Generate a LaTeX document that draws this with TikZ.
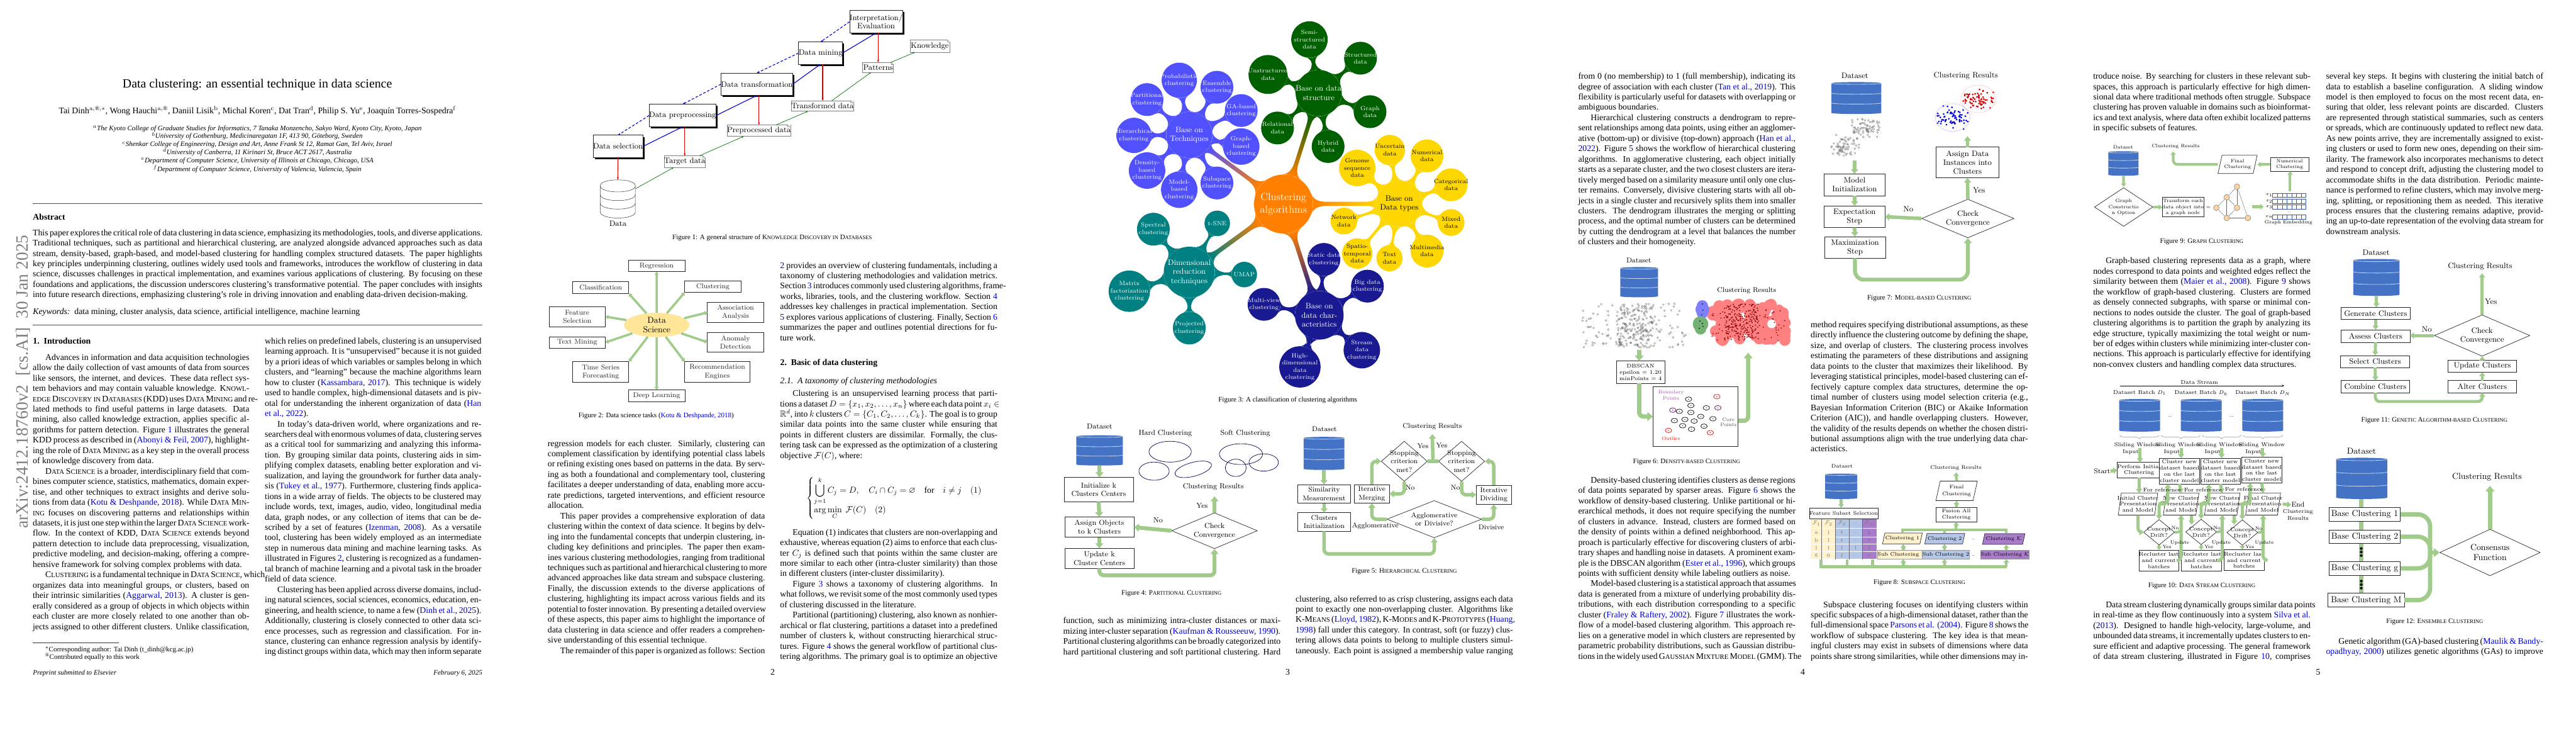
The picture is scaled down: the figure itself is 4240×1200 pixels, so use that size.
\documentclass[tikz,border=0pt]{standalone}
\usepackage{fontspec}
\usepackage{amsmath,amssymb}
\usetikzlibrary{arrows.meta,shapes.geometric,shadows,calc,mindmap,decorations.pathreplacing}
\newfontfamily\tim{Liberation Serif}
\pgfdeclarelayer{bg}\pgfsetlayers{bg,main}
\definecolor{gr}{HTML}{A0CB8B}
\definecolor{cite}{rgb}{0,0,0.85}
\definecolor{dbb}{HTML}{4472C4}
\definecolor{dbs}{HTML}{C5D3EC}
\definecolor{mmo}{RGB}{255,128,0}
\definecolor{mmg}{RGB}{0,96,0}
\definecolor{mmy}{RGB}{255,215,0}
\definecolor{mmb}{RGB}{80,80,255}
\definecolor{mmt}{RGB}{0,128,128}
\definecolor{mmn}{RGB}{25,25,145}
\definecolor{fy}{HTML}{FFF2CC}
\definecolor{fb}{HTML}{B4C7E7}
\definecolor{fp}{HTML}{A97CCB}
\definecolor{dsy}{HTML}{FFE699}
\newcounter{auton}
\newlength\cw
\newcommand\sltf{0.22}
\newcommand\cc[1]{\textcolor{cite}{#1}}
\newcommand\sca[1]{\scalebox{.78}{#1}}
\newcommand\J[1]{\hbox to\cw{#1}}
\newcommand\N[1]{\hbox to\cw{#1\hfil}}
\newcommand\I[1]{\hbox to\cw{\hskip14.5pt #1}}
\newcommand\Blk[4]{\stepcounter{auton}\setlength\cw{#3pt}\node[anchor=base west,inner sep=0,outer sep=0,font=\tim\fontsize{10}{11.95}\selectfont] (n\arabic{auton}) at (#1,#2) {\vtop{#4}};}
\newcommand\Lab[4][]{\stepcounter{auton}\node[inner sep=0,align=center,#1] (n\arabic{auton}) at (#2,#3) {#4};}
\newcommand\Tx[4][]{\stepcounter{auton}\node[anchor=base,inner sep=0,font=\tim\fontsize{10}{11.95}\selectfont,#1] (n\arabic{auton}) at (#2,#3) {#4};}
\newcommand\Fcap[3]{\stepcounter{auton}\node[anchor=base,inner sep=0,font=\tim\fontsize{8}{9.5}\selectfont] (n\arabic{auton}) at (#1,#2) {#3};}
\newcommand\Bx[7][]{\node[bx,#1,minimum width={(#5-#3)*0.7017pt},minimum height={(#6-#4)*0.7017pt}] (#2) at ({(#3+#5)/2},{(#4+#6)/2}) {#7};}
\newcommand\Dm[7][]{\node[diamond,draw=black!85,line width=.5pt,fill=white,inner sep=0,minimum width={2*#5*0.7017pt},minimum height={2*#6*0.7017pt},#1] (#2) at (#3,#4) {};\node[inner sep=0,align=center] (#2t) at (#3,#4) {#7};}
\newcommand\Pg[7][]{\pgfmathsetmacro\slt{(#6-#4)*\sltf}\draw[draw=black!85,line width=.5pt,#1] (#3,#6)--({#5-\slt},#6)--(#5,#4)--({#3+\slt},#4)--cycle;\node[inner sep=0,align=center,minimum width={(#5-#3)*0.7017pt},minimum height={(#6-#4)*0.7017pt}] (#2) at ({(#3+#5)/2},{(#4+#6)/2}) {#7};}
\newcommand\DB[5]{%
 \node[inner sep=0,minimum width={(#4-#2)*0.7017pt},minimum height={(#5-#3)*0.7017pt}] (#1) at ({(#2+#4)/2},{(#3+#5)/2}) {};
 \pgfmathsetmacro\ryy{(#5-#3)*0.035}\pgfmathsetmacro\secc{(#5-#3-2*\ryy)/3}
 \foreach \k in {0,1,2}{%
  \pgfmathsetmacro\ya{#3+\ryy+\k*\secc}\pgfmathsetmacro\yb{\ya+\secc}\pgfmathsetmacro\yc{\ya+1.33*\ryy}\pgfmathsetmacro\yd{\ya-1.33*\ryy}\pgfmathsetmacro\ye{\yb+1.33*\ryy}
  \fill[dbb] (#2,\ya) -- (#2,\yb) .. controls (#2,\ye) and (#4,\ye) .. (#4,\yb) -- (#4,\ya) .. controls (#4,\yd) and (#2,\yd) .. (#2,\ya) -- cycle;
  \draw[dbs,line width=.6pt] (#2,\ya) .. controls (#2,\yc) and (#4,\yc) .. (#4,\ya);
 }}
\newcommand\Scat[7][]{\foreach \i in {1,...,#6}{\pgfmathsetmacro\xa{#2+#4*(rand+rand)/1.5}\pgfmathsetmacro\xb{#3+#5*(rand+rand)/1.5}\draw[#7,#1] (\xa,\xb) circle (1.05pt);}}
\newcommand\Uni[7][]{\foreach \i in {1,...,#6}{\pgfmathsetmacro\xa{#2+#4*rand}\pgfmathsetmacro\xb{#3+#5*rand}\draw[#7,#1] (\xa,\xb) circle (1.05pt);}}
\newcommand\Mm[8]{\node[circle,fill=#5,inner sep=0,minimum size={2*#4*0.7017pt}] (#1) at (#2,#3) {};\node[inner sep=0,align=center,text=#6,font=\fontsize{#7}{\dimexpr 1.18\dimexpr #7pt\relax\relax}\selectfont] (#1t) at (#2,#3) {#8};}
\newcommand\Cn[4]{\begin{pgfonlayer}{bg}\path (#1) to[circle connection bar switch color=from (#3) to (#4)] (#2);\end{pgfonlayer}}
\tikzset{
 bx/.style={draw=black!85,line width=.55pt,inner sep=0,outer sep=0,fill=white,align=center},
 sbox/.style={drop shadow={shadow xshift=2pt,shadow yshift=-2pt,fill=black,opacity=1}},
 nt/.style={draw=black!50,line width=.5pt},
 f5/.style={font=\fontsize{5.6}{6.8}\selectfont},
 f6/.style={font=\fontsize{6}{7.4}\selectfont},
 f65/.style={font=\fontsize{6.3}{7.1}\selectfont},
 f7/.style={font=\fontsize{7}{8.6}\selectfont},
 f8/.style={font=\fontsize{8}{9.6}\selectfont},
 f85/.style={font=\fontsize{8.5}{10}\selectfont},
 f9/.style={font=\fontsize{9}{10}\selectfont},
 f10/.style={font=\fontsize{10}{12}\selectfont},
 ga/.style={draw=gr,line width=#1,rounded corners=5pt,-{Triangle[length=0pt 1.3,width=0pt 2]}},
 gl/.style={draw=gr,line width=#1,rounded corners=5pt},
 rd/.style={draw=red!90!black,line width=.8pt,-{Stealth[length=3pt]}},
 bl/.style={draw=blue!85!black,line width=.8pt,-{Stealth[length=3pt]}},
 bd/.style={draw=blue!85!black,line width=.8pt,densely dashed,-{Stealth[length=3pt]}},
 gn/.style={draw=green!45!black,line width=.5pt,-{Stealth[length=2.5pt]}},
 blob/.style={draw=black!70!blue,line width=.5pt},
}
\begin{document}
\begin{tikzpicture}[x=0.7017pt,y=-0.7017pt]
\useasboundingbox (0,0) rectangle (4240,1200);
\begin{pgfonlayer}{bg}\fill[white] (0,0) rectangle (4240,1200);\end{pgfonlayer}
% ---------- PAGE 1
\Lab[rotate=90,text=black!50,font=\tim\fontsize{20}{20}\selectfont]{38}{628}{arXiv:2412.18760v2\ \ [cs.AI]\ \ 30 Jan 2025}
\Tx[font=\tim\fontsize{14.4}{16}\selectfont]{423.5}{144}{Data clustering: an essential technique in data science}
\Tx{423.5}{186.8}{Tai Dinh$^{\mathrm{a},\text{\textregistered},*}$, Wong Hauchi$^{\mathrm{a},\text{\textregistered}}$, Daniil Lisik$^{\mathrm{b}}$, Michal Koren$^{\mathrm{c}}$, Dat Tran$^{\mathrm{d}}$, Philip S. Yu$^{\mathrm{e}}$, Joaquín Torres-Sospedra$^{\mathrm{f}}$}
\foreach \yy/\ttx in {214.3/{$^a$The Kyoto College of Graduate Studies for Informatics, 7 Tanaka Monzencho, Sakyo Ward, Kyoto City, Kyoto, Japan},227.7/{$^b$University of Gothenburg, Medicinaregatan 1F, 413 90, Göteborg, Sweden},241.1/{$^c$Shenkar College of Engineering, Design and Art, Anne Frank St 12, Ramat Gan, Tel Aviv, Israel},254.5/{$^d$University of Canberra, 11 Kirinari St, Bruce ACT 2617, Australia},267.9/{$^e$Department of Computer Science, University of Illinois at Chicago, Chicago, USA},281.7/{$^f$Department of Computer Science, University of Valencia, Valencia, Spain}}{\Tx[font=\tim\itshape\fontsize{8}{9.5}\selectfont]{423.5}{\yy}{\ttx}}
\coordinate (r1a) at (54,334.9);\coordinate (r1b) at (794,334.9);\draw[black!70,line width=.6pt] (r1a)--(r1b);
\Tx[anchor=base west,font=\tim\bfseries\fontsize{10}{12}\selectfont]{54}{361.7}{Abstract}
\Blk{54}{387.3}{519.2}{%
\J{This paper explores the critical role of data clustering in data science, emphasizing its methodologies, tools, and diverse applications.}
\J{Traditional techniques, such as partitional and hierarchical clustering, are analyzed alongside advanced approaches such as data}
\J{stream, density-based, graph-based, and model-based clustering for handling complex structured datasets. The paper highlights}
\J{key principles underpinning clustering, outlines widely used tools and frameworks, introduces the workflow of clustering in data}
\J{science, discusses challenges in practical implementation, and examines various applications of clustering. By focusing on these}
\J{foundations and applications, the discussion underscores clustering’s transformative potential. The paper concludes with insights}
\N{into future research directions, emphasizing clustering’s role in driving innovation and enabling data-driven decision-making.}}
\Tx[anchor=base west]{54}{516.7}{\textit{Keywords:}\ \ data mining, cluster analysis, data science, artificial intelligence, machine learning}
\coordinate (r2a) at (54,534.6);\coordinate (r2b) at (794,534.6);\draw[black!70,line width=.6pt] (r2a)--(r2b);
\Tx[anchor=base west,font=\tim\bfseries\fontsize{10}{12}\selectfont]{54}{565.6}{1.\ \ Introduction}
\Blk{54}{592.4}{250}{%
\I{Advances in information and data acquisition technologies}
\J{allow the daily collection of vast amounts of data from sources}
\J{like sensors, the internet, and devices. These data reflect sys-}
\J{tem behaviors and may contain valuable knowledge. K\sca{NOWL}-}
\J{\sca{EDGE} D\sca{ISCOVERY IN} D\sca{ATABASES} (KDD) uses D\sca{ATA} M\sca{INING} and re-}
\J{lated methods to find useful patterns in large datasets. Data}
\J{mining, also called knowledge extraction, applies specific al-}
\J{gorithms for pattern detection. Figure \cc{1} illustrates the general}
\J{KDD process as described in (\cc{Abonyi \& Feil, 2007}), highlight-}
\J{ing the role of D\sca{ATA} M\sca{INING} as a key step in the overall process}
\N{of knowledge discovery from data.}
\I{D\sca{ATA} S\sca{CIENCE} is a broader, interdisciplinary field that com-}
\J{bines computer science, statistics, mathematics, domain exper-}
\J{tise, and other techniques to extract insights and derive solu-}
\J{tions from data (\cc{Kotu \& Deshpande, 2018}). While D\sca{ATA} M\sca{IN}-}
\J{\sca{ING} focuses on discovering patterns and relationships within}
\J{datasets, it is just one step within the larger D\sca{ATA} S\sca{CIENCE} work-}
\J{flow. In the context of KDD, D\sca{ATA} S\sca{CIENCE} extends beyond}
\J{pattern detection to include data preprocessing, visualization,}
\J{predictive modeling, and decision-making, offering a compre-}
\N{hensive framework for solving complex problems with data.}
\I{C\sca{LUSTERING} is a fundamental technique in D\sca{ATA} S\sca{CIENCE}, which}
\J{organizes data into meaningful groups, or clusters, based on}
\J{their intrinsic similarities (\cc{Aggarwal, 2013}). A cluster is gen-}
\J{erally considered as a group of objects in which objects within}
\J{each cluster are more closely related to one another than ob-}
\J{jects assigned to other different clusters. Unlike classification,}}
\Blk{436}{565.6}{250}{%
\J{which relies on predefined labels, clustering is an unsupervised}
\J{learning approach. It is “unsupervised” because it is not guided}
\J{by a priori ideas of which variables or samples belong in which}
\J{clusters, and “learning” because the machine algorithms learn}
\J{how to cluster (\cc{Kassambara, 2017}). This technique is widely}
\J{used to handle complex, high-dimensional datasets and is piv-}
\J{otal for understanding the inherent organization of data (\cc{Han}}
\N{\cc{et al., 2022}).}
\I{In today’s data-driven world, where organizations and re-}
\J{searchers deal with enormous volumes of data, clustering serves}
\J{as a critical tool for summarizing and analyzing this informa-}
\J{tion. By grouping similar data points, clustering aids in sim-}
\J{plifying complex datasets, enabling better exploration and vi-}
\J{sualization, and laying the groundwork for further data analy-}
\J{sis (\cc{Tukey et al., 1977}). Furthermore, clustering finds applica-}
\J{tions in a wide array of fields. The objects to be clustered may}
\J{include words, text, images, audio, video, longitudinal media}
\J{data, graph nodes, or any collection of items that can be de-}
\J{scribed by a set of features (\cc{Izenman, 2008}). As a versatile}
\J{tool, clustering has been widely employed as an intermediate}
\J{step in numerous data mining and machine learning tasks. As}
\J{illustrated in Figures \cc{2}, clustering is recognized as a fundamen-}
\J{tal branch of machine learning and a pivotal task in the broader}
\N{field of data science.}
\I{Clustering has been applied across diverse domains, includ-}
\J{ing natural sciences, social sciences, economics, education, en-}
\J{gineering, and health science, to name a few (\cc{Dinh et al., 2025}).}
\J{Additionally, clustering is closely connected to other data sci-}
\J{ence processes, such as regression and classification. For in-}
\J{stance, clustering can enhance regression analysis by identify-}
\J{ing distinct groups within data, which may then inform separate}}
\coordinate (fa) at (54,1057.3);\coordinate (fb) at (196,1057.3);\draw[black!80,line width=.4pt] (fa)--(fb);
\Tx[anchor=base west,font=\tim\fontsize{8}{9.5}\selectfont]{74}{1071.5}{$^*$Corresponding author: Tai Dinh (t\_dinh@kcg.ac.jp)}
\Tx[anchor=base west,font=\tim\fontsize{8}{9.5}\selectfont]{74}{1084}{$^{\text{\textregistered}}$Contributed equally to this work}
\Tx[anchor=base west,font=\tim\itshape\fontsize{8}{9.5}\selectfont]{54}{1109.8}{Preprint submitted to Elsevier}
\Tx[anchor=base east,font=\tim\itshape\fontsize{8}{9.5}\selectfont]{794}{1109.8}{February 6, 2025}
% ---------- PAGE 2: Figure 1
\begin{scope}[every node/.append style={f9}]
\Bx[sbox]{sel}{977.4}{222.3}{1057}{259.5}{Data selection}
\Bx[sbox]{pre}{1071}{171.4}{1176}{208.6}{Data preprocessing}
\Bx[sbox]{tra}{1190}{120}{1301.5}{157}{Data transformation}
\Bx[sbox]{min}{1315.6}{69}{1385.5}{105.6}{Data mining}
\Bx[sbox]{int}{1400}{17.2}{1484}{54.3}{Interpretation/\\Evaluation}
\Bx[nt]{tgt}{1093.4}{256.4}{1160.6}{275.5}{Target data}
\Bx[nt]{ppd}{1198.5}{205.5}{1300}{224.3}{Preprocessed data}
\Bx[nt]{tfd}{1304}{165.7}{1404}{183}{Transformed data}
\Bx[nt]{pat}{1420}{102.6}{1470.6}{119}{Patterns}
\Bx[nt]{kno}{1497.7}{66}{1563}{86}{Knowledge}
\foreach \a/\b in {1160.6/256.4,1300/205.5,1404/165.7,1470.6/102.6,1563/66}{\fill[white] (\a-4,\b-1)--(\a+1,\b-1)--(\a+1,\b+4)--cycle;\draw[black!50,line width=.4pt] (\a-4,\b)--(\a,\b+3.5)--(\a-4,\b+3.5)--cycle;}
\node[inner sep=0,minimum width={57.7*0.7017pt},minimum height={62.8*0.7017pt}] (cyl) at (1016.8,327.2) {};
\draw[black!75,line width=.4pt,fill=white] (988,305.7) .. controls (988,292.5) and (1045.7,292.5) .. (1045.7,305.7) -- (1045.7,348.6) .. controls (1045.7,362) and (988,362) .. (988,348.6) -- cycle;
\draw[black!75,line width=.4pt] (988,305.7) .. controls (988,319) and (1045.7,319) .. (1045.7,305.7);
\draw[black!75,line width=.4pt] (988,320) .. controls (988,333.3) and (1045.7,333.3) .. (1045.7,320);
\draw[black!75,line width=.4pt] (988,334) .. controls (988,347.3) and (1045.7,347.3) .. (1045.7,334);
\Lab{1017}{367.4}{Data}
\draw[rd] (sel.south)--(cyl.north);
\draw[rd] (tgt.north |- pre.south)--(tgt.north);
\draw[rd] (ppd.north |- tra.south)--(ppd.north);
\draw[rd] (tfd.north |- min.south)--(tfd.north);
\draw[rd] (pat.north |- int.south)--(pat.north);
\draw[bl] (sel.east)--(pre.south);\draw[bl] (pre.east)--(tra.south);\draw[bl] (tra.east)--(min.south);\draw[bl] (min.east)--(int.south);
\draw[bd] (pre.west)--(sel.north);\draw[bd] (tra.west)--(pre.north);\draw[bd] (min.west)--(tra.north);\draw[bd] (int.west)--(min.north);
\draw[gn] ([yshift=-10.5pt]cyl.north east)--([xshift=11pt]tgt.south west);
\draw[gn] ([xshift=-7pt]tgt.north east)--([xshift=19pt]ppd.south west);
\draw[gn] ([xshift=-17pt]ppd.north east)--([xshift=19pt]tfd.south west);
\draw[gn] ([xshift=-25.5pt]tfd.north east)--([xshift=9.6pt]pat.south west);
\draw[gn] ([xshift=-3pt]pat.north east)--([xshift=5.7pt]kno.south west);
\end{scope}
\Fcap{1271}{394}{Figure 1: A general structure of K\sca{NOWLEDGE} D\sca{ISCOVERY IN} D\sca{ATABASES}}
% Figure 2
\begin{scope}[every node/.append style={f8,text=black!85}]
\Bx{b1}{1034}{427.9}{1127.5}{447}{Regression}
\Bx{b2}{942.7}{463.5}{1034.8}{482.6}{Classification}
\Bx{b3}{1127}{462}{1219.7}{481}{Clustering}
\Bx{b4}{903.7}{504.4}{996.3}{537.3}{Feature\\Selection}
\Bx{b5}{1164.4}{497.5}{1257}{530.4}{Association\\Analysis}
\Bx{b6}{903.7}{553.8}{996.3}{572.9}{Text Mining}
\Bx{b7}{1164.4}{546.5}{1257}{579.4}{Anomaly\\Detection}
\Bx{b8}{942.7}{595}{1034.8}{628.3}{Time Series\\Forecasting}
\Bx{b9}{1127}{595}{1234.3}{628.3}{Recommendation\\Engines}
\Bx{b10}{1034}{641.3}{1127.5}{660.5}{Deep Learning}
\node[ellipse,fill=dsy,inner sep=0,minimum width={108*0.7017pt},minimum height={40*0.7017pt},align=center,font=\fontsize{10}{10.6}\selectfont,text=black] (ds) at (1081,534.6) {Data\\Science};
\foreach \t in {b1.south,b2.south east,b3.south west,b4.east,b5.west,b6.east,b7.west,b8.north east,b9.north west,b10.north}{\draw[ga=2.6pt] (ds)--(\t);}
\end{scope}
\Fcap{1080}{686.5}{Figure 2: Data science tasks (\cc{Kotu \& Deshpande, 2018})}
\Blk{901.5}{734}{251}{%
\J{regression models for each cluster. Similarly, clustering can}
\J{complement classification by identifying potential class labels}
\J{or refining existing ones based on patterns in the data. By serv-}
\J{ing as both a foundational and complementary tool, clustering}
\J{facilitates a deeper understanding of data, enabling more accu-}
\J{rate predictions, targeted interventions, and efficient resource}
\N{allocation.}
\I{This paper provides a comprehensive exploration of data}
\J{clustering within the context of data science. It begins by delv-}
\J{ing into the fundamental concepts that underpin clustering, in-}
\J{cluding key definitions and principles. The paper then exam-}
\J{ines various clustering methodologies, ranging from traditional}
\J{techniques such as partitional and hierarchical clustering to more}
\J{advanced approaches like data stream and subspace clustering.}
\J{Finally, the discussion extends to the diverse applications of}
\J{clustering, highlighting its impact across various fields and its}
\J{potential to foster innovation. By presenting a detailed overview}
\J{of these aspects, this paper aims to highlight the importance of}
\J{data clustering in data science and offer readers a comprehen-}
\N{sive understanding of this essential technique.}
\I{The remainder of this paper is organized as follows: Section}}
\Blk{1284}{441}{251}{%
\J{\cc{2} provides an overview of clustering fundamentals, including a}
\J{taxonomy of clustering methodologies and validation metrics.}
\J{Section \cc{3} introduces commonly used clustering algorithms, frame-}
\J{works, libraries, tools, and the clustering workflow. Section \cc{4}}
\J{addresses key challenges in practical implementation. Section}
\J{\cc{5} explores various applications of clustering. Finally, Section \cc{6}}
\J{summarizes the paper and outlines potential directions for fu-}
\N{ture work.}}
\Tx[anchor=base west,font=\tim\bfseries\fontsize{10}{12}\selectfont]{1284}{601}{2.\ \ Basic of data clustering}
\Tx[anchor=base west,font=\tim\itshape\fontsize{10}{12}\selectfont]{1284}{630.6}{2.1.\ \ A taxonomy of clustering methodologies}
\Blk{1284}{651.7}{251}{%
\I{Clustering is an unsupervised learning process that parti-}
\J{tions a dataset $D = \{x_1, x_2, \ldots, x_n\}$ where each data point $x_i \in$}
\J{$\mathbb{R}^d$, into $k$ clusters $C = \{C_1, C_2, \ldots, C_k\}$. The goal is to group}
\J{similar data points into the same cluster while ensuring that}
\J{points in different clusters are dissimilar. Formally, the clus-}
\J{tering task can be expressed as the optimization of a clustering}
\N{objective $\mathcal{F}(C)$, where:}}
\Lab[anchor=west,font=\tim\fontsize{10}{12}\selectfont]{1327}{819.5}{$\left\{\begin{array}{@{}l}\displaystyle\bigcup_{j=1}^{k} C_j = D,\quad C_i\cap C_j=\varnothing\quad\text{for}\quad i\neq j\quad(1)\\[2pt] \displaystyle\arg\min_{C}\ \mathcal{F}(C)\quad(2)\end{array}\right.$}
\Blk{1284}{880}{251}{%
\I{Equation (1) indicates that clusters are non-overlapping and}
\J{exhaustive, whereas equation (2) aims to enforce that each clus-}
\J{ter $C_j$ is defined such that points within the same cluster are}
\J{more similar to each other (intra-cluster similarity) than those}
\N{in different clusters (inter-cluster dissimilarity).}
\I{Figure \cc{3} shows a taxonomy of clustering algorithms. In}
\J{what follows, we revisit some of the most commonly used types}
\N{of clustering discussed in the literature.}
\I{Partitional (partitioning) clustering, also known as nonhier-}
\J{archical or flat clustering, partitions a dataset into a predefined}
\J{number of clusters k, without constructing hierarchical struc-}
\J{tures. Figure \cc{4} shows the general workflow of partitional clus-}
\J{tering algorithms. The primary goal is to optimize an objective}}
\Tx{1271.7}{1109.8}{2}
% ---------- PAGE 3: Figure 3 mindmap
\Mm{root}{2112.5}{335.6}{48.5}{mmo}{white}{12}{Clustering\\algorithms}
\Mm{gc}{2170.5}{153}{38}{mmg}{white}{9}{Base on data\\structure}
\Mm{bc}{1957.5}{222}{38}{mmb}{white}{9}{Base on\\Techniques}
\Mm{yc}{2303}{335}{38}{mmy}{black}{9}{Base on\\Data types}
\Mm{tc}{1957.5}{447.8}{42}{mmt}{white}{9}{Dimensional\\reduction\\techniques}
\Mm{nc}{2171.5}{518.6}{40}{mmn}{white}{9}{Base on\\data char-\\acteristics}
\foreach \cx/\cl in {gc/mmg,bc/mmb,yc/mmy,tc/mmt,nc/mmn}{\Cn{root}{\cx}{mmo}{\cl}}
\foreach \n/\x/\y/\r/\t in {g1/2155.3/65/30/{Semi-\\structured\\data},g2/2239.3/95.7/27/{Structured\\data},g3/2087/122.5/32/{Unstructured\\data},g4/2255/183.7/27/{Graph\\data},g5/2186/241/27/{Hybrid\\data},g6/2102.7/210.5/27/{Relational\\data}}{\Mm{\n}{\x}{\y}{\r}{mmg}{white}{7}{\t}\Cn{gc}{\n}{mmg}{mmg}}
\foreach \n/\x/\y/\r/\t in {y1/2287.6/246.8/25/{Uncertain\\data},y2/2348.8/256.4/27/{Numerical\\data},y3/2234/276.3/30/{Genome\\sequence\\data},y4/2388.4/304/27/{Categorical\\data},y5/2212/363.6/22/{Network\\data},y6/2388.4/366/22/{Mixed\\data},y7/2234/417/25/{Spatio-\\temporal\\data},y8/2287/424.8/21.5/{Text\\data},y9/2348.8/413/27/{Multimedia\\data}}{\Mm{\n}{\x}{\y}{\r}{mmy}{black}{7}{\t}\Cn{yc}{\n}{mmy}{mmy}}
\foreach \n/\x/\y/\r/\t in {b1/1941/132/29/{Probabilistic\\clustering},b2/2003/143.5/27/{Ensemble\\clustering},b3/1888/163.8/27/{Partitional\\clustering},b4/2043/181.8/27/{GA-based\\clustering},b5/1866.4/222.7/29/{Hierarchical\\clustering},b6/2043/241/30/{Graph-\\based\\clustering},b7/1888/280.5/30/{Density-\\based\\clustering},b8/1941/312/30/{Model-\\based\\clustering},b9/2003/301/27/{Subspace\\clustering}}{\Mm{q\n}{\x}{\y}{\r}{mmb}{white}{7}{\t}\Cn{bc}{q\n}{mmb}{mmb}}
\foreach \n/\x/\y/\r/\t in {t1/1898.4/377/27/{Spectral\\clustering},t2/2003.5/367.4/21/{t-SNE},t3/2048/451.6/21/{UMAP},t4/1858.8/479/34/{Matrix\\factorization\\clustering},t5/1957.5/539.6/27/{Projected\\clustering}}{\Mm{\n}{\x}{\y}{\r}{mmt}{white}{7}{\t}\Cn{tc}{\n}{mmt}{mmt}}
\foreach \n/\x/\y/\r/\t in {n1/2179/426.7/27/{Static data\\clustering},n2/2250.7/470.7/27/{Big data\\clustering},n3/2080.5/500.6/27/{Multi-view\\clustering},n4/2241.5/576/30/{Stream\\data\\clustering},n5/2139.6/603.5/34/{High-\\dimensional\\data\\clustering}}{\Mm{\n}{\x}{\y}{\r}{mmn}{white}{7}{\t}\Cn{nc}{\n}{mmn}{mmn}}
\Fcap{2119.6}{661}{Figure 3: A classification of clustering algorithms}
% Figure 4
\begin{scope}[every node/.append style={f85}]
\Lab{1810}{701.4}{Dataset}\Lab{1918}{712.5}{Hard Clustering}\Lab{2049.6}{713}{Soft Clustering}
\DB{db4}{1771.5}{716}{1848}{765.7}
\draw[blob] (1926,743) ellipse (24.5pt and 12pt);
\draw[blob] (1899.5,775) ellipse (17.5pt and 10.5pt);
\draw[blob,rotate around={15:(1964,772)}] (1964,772) ellipse (21.7pt and 8pt);
\draw[blob] (2042.6,747) ellipse (25pt and 12pt);
\draw[blob] (2034,769.5) ellipse (12pt and 10pt);
\draw[blob] (2080,760.7) ellipse (17pt and 10pt);
\Lab[alias=cr4]{1997}{800.5}{Clustering Results}
\Bx{i4}{1751.5}{785.2}{1865.3}{825.4}{Initialize k\\Clusters Centers}
\Bx{a4}{1752.6}{850.7}{1866.4}{883.6}{Assign Objects\\to k Clusters}
\Bx{u4}{1752.6}{902}{1866.4}{935}{Update k\\Cluster Centers}
\Dm{d4}{1999}{873}{70.5}{29.5}{Check\\Convergence}
\draw[ga=4.5pt] (db4.south)--(db4.south |- i4.north);
\draw[ga=4.5pt] (i4.south)--(a4.north);
\draw[ga=4.5pt] (a4.south)--(u4.north);
\draw[ga=4.5pt] (d4.west)--(a4.east);
\draw[ga=4.5pt] (u4.south)--(1809.5,946.3)-|(d4.south);
\draw[ga=4.5pt] (d4.north)--([yshift=-7pt]cr4.south -| d4.north);
\Lab{1978.6}{832.3}{Yes}\Lab{1906}{856}{No}
\end{scope}
\Fcap{1928.2}{978.9}{Figure 4: P\sca{ARTITIONAL} C\sca{LUSTERING}}
% Figure 5
\begin{scope}[every node/.append style={f8}]
\Lab{2180}{706}{Dataset}\Lab[alias=cr5]{2357.5}{701.4}{Clustering Results}
\DB{db5}{2145.6}{718.6}{2212.8}{773}
\Bx{s5}{2135.8}{797}{2223}{827.7}{Similarity\\Measurement}
\Bx{c5}{2135.8}{843.4}{2223}{874}{Clusters\\Initialization}
\Bx{m5}{2229}{797}{2287}{827.7}{Iterative\\Merging}
\Bx{v5}{2429.6}{798}{2487.6}{829.6}{Iterative\\Dividing}
\Dm{sl}{2311.4}{758.8}{38}{33}{Stopping\\criterion\\met?}
\Dm{sr}{2405.7}{758.8}{38}{33}{Stopping\\criterion\\met?}
\Dm{ag}{2360.7}{854}{78}{30.6}{Agglomerative\\or Divisive?}
\draw[ga=4pt] (db5.south)--(db5.south |- s5.north);
\draw[ga=4pt] (s5.south)--(c5.north);
\draw[ga=4pt] (c5.south)--(2179.4,911)-|(ag.south);
\draw[ga=4pt] (ag.west)-|(m5.south);
\draw[ga=4pt] (ag.east)-|(v5.south);
\draw[ga=4pt] (m5.north)|-(sl.west);
\draw[ga=4pt] (v5.north)|-(sr.east);
\draw[ga=4pt] (sl.south)|-(m5.east);
\draw[ga=4pt] (sr.south)|-(v5.west);
\draw[gl=4pt] (sl.east)--(sr.west);
\draw[ga=4pt] ($(sl.east)!.5!(sr.west)$)--([yshift=-5pt]cr5.south);
\Lab{2342}{734}{Yes}\Lab{2373}{733}{Yes}\Lab{2321}{802}{No}\Lab{2395.4}{802}{No}\Lab{2263.7}{865}{Agglomerative}\Lab{2454.5}{867}{Divisive}
\end{scope}
\Fcap{2311.4}{942.5}{Figure 5: H\sca{IERARCHICAL} C\sca{LUSTERING}}
\Blk{1750}{1025.6}{251}{%
\J{function, such as minimizing intra-cluster distances or maxi-}
\J{mizing inter-cluster separation (\cc{Kaufman \& Rousseeuw, 1990}).}
\J{Partitional clustering algorithms can be broadly categorized into}
\J{hard partitional clustering and soft partitional clustering. Hard}}
\Blk{2132.5}{989.6}{251}{%
\J{clustering, also referred to as crisp clustering, assigns each data}
\J{point to exactly one non-overlapping cluster. Algorithms like}
\J{K-M\sca{EANS} (\cc{Lloyd, 1982}), K-M\sca{ODES} and K-P\sca{ROTOTYPES} (\cc{Huang,}}
\J{\cc{1998}) fall under this category. In contrast, soft (or fuzzy) clus-}
\J{tering allows data points to belong to multiple clusters simul-}
\J{taneously. Each point is assigned a membership value ranging}}
\Tx{2119.5}{1109.8}{3}
% ---------- PAGE 4
\Blk{2597.7}{130}{251}{%
\J{from 0 (no membership) to 1 (full membership), indicating its}
\J{degree of association with each cluster (\cc{Tan et al., 2019}). This}
\J{flexibility is particularly useful for datasets with overlapping or}
\N{ambiguous boundaries.}
\I{Hierarchical clustering constructs a dendrogram to repre-}
\J{sent relationships among data points, using either an agglomer-}
\J{ative (bottom-up) or divisive (top-down) approach (\cc{Han et al.,}}
\J{\cc{2022}). Figure \cc{5} shows the workflow of hierarchical clustering}
\J{algorithms. In agglomerative clustering, each object initially}
\J{starts as a separate cluster, and the two closest clusters are itera-}
\J{tively merged based on a similarity measure until only one clus-}
\J{ter remains. Conversely, divisive clustering starts with all ob-}
\J{jects in a single cluster and recursively splits them into smaller}
\J{clusters. The dendrogram illustrates the merging or splitting}
\J{process, and the optimal number of clusters can be determined}
\J{by cutting the dendrogram at a level that balances the number}
\N{of clusters and their homogeneity.}}
% Figure 6
\begin{scope}[every node/.append style={f8}]
\pgfmathsetseed{7}
\Lab{2697.4}{428.6}{Dataset}\Lab{2875}{477.6}{Clustering Results}
\DB{db6}{2667}{439.3}{2729}{489}
\Uni{2689}{535.5}{88}{36}{130}{black!55,line width=.25pt}
\Uni{2690}{535.5}{30}{36}{170}{black!55,line width=.25pt}
\foreach \i in {1,...,110}{\pgfmathsetmacro\xa{2880+62*rand}\pgfmathsetmacro\xb{530+30*rand}\fill[red!50!white] (\xa,\xb) circle (6.5pt);}
\fill[white] (2916,532.7) circle (5pt);
\fill[blue!50!white] (2802,509) circle (8pt);\fill[blue!50!white] (2802,503) circle (6.5pt);\fill[blue!50!white] (2802,515) circle (6.5pt);
\fill[green!45!black!55!white] (2799,533) circle (9pt);\fill[green!45!black!55!white] (2799,541) circle (6.5pt);
\foreach \i in {1,...,90}{\pgfmathsetmacro\xa{2880+62*rand}\pgfmathsetmacro\xb{530+30*rand}\fill[red!60!black] (\xa,\xb) circle (.75pt);}
\foreach \i in {1,...,200}{\pgfmathsetmacro\xa{2866+28*rand}\pgfmathsetmacro\xb{530+30*rand}\fill[red!50!black] (\xa,\xb) circle (.75pt);}
\foreach \a/\b in {2802/500,2803/510,2801/518,2798/528,2802/532,2797/540,2803/537}{\fill[black] (\a,\b) circle (.7pt);}
\Bx[f65]{dbs}{2660.6}{594}{2740}{630.6}{DBSCAN\\epsilon = 1.20\\minPoints = 4}
\Bx{big}{2720.7}{635.6}{2861}{734.7}{}
\coordinate (sc6) at (2698,576);\coordinate (cr6) at (2877.4,580);
\draw[ga=5pt] (sc6)--(sc6 |- dbs.north);
\draw[ga=5pt] (sc6 |- dbs.south)|-(big.west);
\draw[ga=5pt] (big.east)++(0,7)-|(cr6);
\begin{scope}[shift={(2550,600)},xscale=.542,yscale=.3827]
\foreach \a/\b in {423/148,430/175,395/200,412/235,430/205,380/240,405/262,432/277,460/222,477/185,497/232,470/264,440/242}{\draw[black,line width=.5pt] (\a,\b) circle (6.9pt);\fill[black] (\a,\b) circle (1.1pt);}
\draw[black!30!violet,line width=.5pt] (375,195) circle (6.9pt);\fill[violet] (375,195) circle (1.3pt);
\draw[black!30!violet,line width=.5pt] (512,185) circle (6.9pt);\fill[violet] (512,185) circle (1.3pt);
\foreach \a/\b in {509/137,362/282,489/292}{\draw[red!90!black,line width=.5pt] (\a,\b) circle (6.9pt);\fill[red] (\a,\b) circle (1.3pt);}
\end{scope}
\Lab[f5,text=violet!70]{2750.5}{646}{Boundary}\Lab[f5,text=violet!70]{2750.5}{655.5}{Points}
\Lab[f5,text=black!70]{2845}{690}{Core}\Lab[f5,text=black!70]{2845}{699}{Points}
\Lab[f5,text=red]{2750.5}{721.7}{Outlier}
\end{scope}
\Fcap{2776}{761.9}{Figure 6: D\sca{ENSITY-BASED} C\sca{LUSTERING}}
\Blk{2597.7}{794.4}{251}{%
\I{Density-based clustering identifies clusters as dense regions}
\J{of data points separated by sparser areas. Figure \cc{6} shows the}
\J{workflow of density-based clustering. Unlike partitional or hi-}
\J{erarchical methods, it does not require specifying the number}
\J{of clusters in advance. Instead, clusters are formed based on}
\J{the density of points within a defined neighborhood. This ap-}
\J{proach is particularly effective for discovering clusters of arbi-}
\J{trary shapes and handling noise in datasets. A prominent exam-}
\J{ple is the DBSCAN algorithm (\cc{Ester et al., 1996}), which groups}
\N{points with sufficient density while labeling outliers as noise.}
\I{Model-based clustering is a statistical approach that assumes}
\J{data is generated from a mixture of underlying probability dis-}
\J{tributions, with each distribution corresponding to a specific}
\J{cluster (\cc{Fraley \& Raftery, 2002}). Figure \cc{7} illustrates the work-}
\J{flow of a model-based clustering algorithm. This approach re-}
\J{lies on a generative model in which clusters are represented by}
\J{parametric probability distributions, such as Gaussian distribu-}
\J{tions in the widely used G\sca{AUSSIAN} M\sca{IXTURE} M\sca{ODEL} (GMM). The}}
% Figure 7
\begin{scope}[every node/.append style={f9}]
\Lab{3053}{124.4}{Dataset}\Lab{3235.7}{125}{Clustering Results}
\DB{db7}{3014.5}{135}{3096.4}{187.5}
\Scat{3072}{210.5}{22}{15}{70}{black!55,line width=.25pt}
\Scat{3032.4}{241}{22}{15}{70}{black!55,line width=.25pt}
\foreach \i in {1,...,70}{\pgfmathsetmacro\xa{3256+20*(rand+rand)/1.4}\pgfmathsetmacro\xb{162.6+15*(rand+rand)/1.4}\fill[red!85!black] (\xa,\xb) circle (1.1pt);}
\foreach \i in {1,...,70}{\pgfmathsetmacro\xa{3214+20*(rand+rand)/1.4}\pgfmathsetmacro\xb{193.3+15*(rand+rand)/1.4}\fill[blue!85!black] (\xa,\xb) circle (1.1pt);}
\draw[red!30,line width=.3pt] (3256,162.6) ellipse (20pt and 16pt);
\draw[blue!30,line width=.3pt] (3214,193.3) ellipse (20pt and 16pt);
\coordinate (sc7) at (3052.5,264);\coordinate (cr7) at (3238.4,224);
\Bx{mi7}{3002.6}{286}{3102.4}{321.9}{Model\\Initialization}
\Bx{ex7}{3002.6}{338.7}{3102.4}{374.3}{Expectation\\Step}
\Bx{ma7}{3003}{389.2}{3103.4}{424.8}{Maximization\\Step}
\Bx{as7}{3186.4}{241.9}{3290.4}{292.8}{Assign Data\\Instances into\\Clusters}
\Dm{d7}{3239}{359.4}{76}{31.8}{Check\\Convergence}
\draw[ga=4pt] (sc7)--(sc7 |- mi7.north);
\draw[ga=4pt] (mi7.south)--(ex7.north);\draw[ga=4pt] (ex7.south)--(ma7.north);
\draw[ga=4pt] (d7.north)--(as7.south);\draw[ga=4pt] (as7.north)--(cr7);
\draw[ga=4pt] (d7.west)--(ex7.east);
\draw[ga=4.5pt,rounded corners=10pt] (ma7.south)--(3053.2,460)-|(d7.south);
\Lab{3257.4}{313}{Yes}\Lab{3141}{344.4}{No}
\end{scope}
\Fcap{3159}{493}{Figure 7: M\sca{ODEL-BASED} C\sca{LUSTERING}}
\Blk{2980.4}{538.8}{251}{%
\J{method requires specifying distributional assumptions, as these}
\J{directly influence the clustering outcome by defining the shape,}
\J{size, and overlap of clusters. The clustering process involves}
\J{estimating the parameters of these distributions and assigning}
\J{data points to the cluster that maximizes their likelihood. By}
\J{leveraging statistical principles, model-based clustering can ef-}
\J{fectively capture complex data structures, determine the op-}
\J{timal number of clusters using model selection criteria (e.g.,}
\J{Bayesian Information Criterion (BIC) or Akaike Information}
\J{Criterion (AIC)), and handle overlapping clusters. However,}
\J{the validity of the results depends on whether the chosen distri-}
\J{butional assumptions align with the true underlying data char-}
\N{acteristics.}}
% Figure 8
\begin{scope}[every node/.append style={f6}]
\Lab{3032}{767}{Dataset}\Lab[alias=cr8]{3219.4}{770}{Clustering Results}
\DB{db8}{3004}{779}{3056.8}{820.8}
\foreach \a/\b/\cl in {2980.4/2999/fy,2999/3020.5/fy,3020.5/3043/fb,3043/3065.5/fb,3065.5/3088.8/fp}{\fill[\cl] (\a,853.3) rectangle (\b,920);}
\foreach \yy in {853.3,868.6,883.2,894.7,907.3,920}{\draw[white,line width=.4pt] (2980.4,\yy)--(3088.8,\yy);}
\foreach \xx in {2998.3,3020.7,3043.3,3065.7}{\draw[black!60,line width=.3pt] (\xx,853.3)--(\xx,920);}
\Bx{ts8}{2980.4}{835.4}{3088.8}{853.3}{Feature Subset Selection}
\foreach \xx/\pa/\pb/\pc/\pd/\pe in {2989.7/$\mathcal{F}_1$/a/b/l/g,3009.7/$\mathcal{F}_2$/l/l/l/0,3031.7/$\mathcal{F}_3$/t/t/l/f,3054.2/../../../l/..,3077.1/$\mathcal{F}_m$/h/u/l/v}{\Lab[text=black!55]{\xx}{861}{\pa}\Lab[text=black!55]{\xx}{876}{\pb}\Lab[text=black!55]{\xx}{889}{\pc}\Lab[text=black!55]{\xx}{901}{\pd}\Lab[text=black!55]{\xx}{913.5}{\pe}}
\Pg[fill=fy]{c81}{3098.5}{876.7}{3164}{894.7}{Clustering 1}
\Pg[fill=fb]{c82}{3168}{877.5}{3234}{894.7}{Clustering 2}
\Pg[fill=fp]{c83}{3263}{877.8}{3333}{895.4}{Clustering $\mathcal{K}$}
\Bx[fill=fy,draw=black!40]{s81}{3093.7}{905.4}{3164}{919.6}{Sub Clustering 1}
\Bx[fill=fb,draw=black!40]{s82}{3167.4}{905.4}{3238}{919.6}{Sub Clustering 2}
\Bx[fill=fp,draw=black!40]{s83}{3263.3}{905.4}{3336.5}{919.6}{Sub Clustering $\mathcal{K}$}
\Pg[fill=white]{fi8}{3186.4}{791.4}{3254.6}{823.5}{Final\\Clustering}
\Bx{fu8}{3186.4}{834.6}{3253.6}{858.3}{Fusion All\\Clustering}
\draw[ga=3.2pt] (db8.south)--(db8.south |- ts8.north);
\draw[ga=3.2pt] (fi8.north)--([yshift=-2pt]cr8.south);
\draw[ga=3.2pt] (fu8.north)--(fi8.south);
\draw[gl=3.2pt,rounded corners=0pt] (3131.6,876)--(3131.6,871.7)--(3302.4,871.7)--(3302.4,877);
\draw[gl=3.2pt,rounded corners=0pt] (3200.5,871.7)--(3200.5,877);
\coordinate (bu8) at (3219.4,871.7);\draw[ga=3.2pt] (bu8)--(fu8.south);
\draw[gl=3.2pt,rounded corners=0pt] (2997.2,920)--(2997.2,932.2)--(3303,932.2);
\draw[gl=3.2pt,rounded corners=0pt] (3040.5,920)--(3040.5,932.2);\draw[gl=3.2pt,rounded corners=0pt] (3082.3,920)--(3082.3,932.2);
\foreach \xx/\st in {3132.7/s81,3200.5/s82,3302.4/s83}{\coordinate (tmp) at (\xx,932.2);\draw[ga=3.2pt] (tmp)--(tmp |- \st.south);}
\foreach \xx/\st/\ct in {3132.7/s81/c81,3200.5/s82/c82,3302.4/s83/c83}{\coordinate (tmp) at (\xx,905);\draw[ga=3.2pt] (tmp)--(tmp |- \ct.south);}
\Lab{3248}{887}{..}\Lab{3248}{913.8}{..}
\end{scope}
\Fcap{3159.2}{961.3}{Figure 8: S\sca{UBSPACE} C\sca{LUSTERING}}
\Blk{2980.4}{999}{251}{%
\I{Subspace clustering focuses on identifying clusters within}
\J{specific subspaces of a high-dimensional dataset, rather than the}
\J{full-dimensional space \cc{Parsons et al. (2004)}. Figure \cc{8} shows the}
\J{workflow of subspace clustering. The key idea is that mean-}
\J{ingful clusters may exist in subsets of dimensions where data}
\J{points share strong similarities, while other dimensions may in-}}
\Tx{2967.4}{1109.8}{4}
% ---------- PAGE 5
\Blk{3445.3}{130}{251}{%
\J{troduce noise. By searching for clusters in these relevant sub-}
\J{spaces, this approach is particularly effective for high dimen-}
\J{sional data where traditional methods often struggle. Subspace}
\J{clustering has proven valuable in domains such as bioinformat-}
\J{ics and text analysis, where data often exhibit localized patterns}
\N{in specific subsets of features.}}
% Figure 9
\begin{scope}[every node/.append style={f5}]
\Lab{3494.6}{241.9}{Dataset}\Lab[alias=cr9]{3581.3}{240.3}{Clustering Results}
\DB{db9}{3470.2}{248.8}{3520}{289}
\Dm{d9}{3495.4}{340.6}{48}{31.8}{Graph\\Constructio\\n Option}
\Bx{tr9}{3561.3}{324.9}{3624.7}{356.7}{Transform each\\data object into\\a graph node}
\Lab{3635}{341.4}{=}
\foreach \n/\x/\y in {1/3682/307,2/3665/324.5,3/3648/341.7,4/3682/341.7,5/3665/358.6,6/3700/358.6}{\node[circle,draw=black!60,line width=.3pt,fill=orange!35,inner sep=0,minimum size=6.5pt] (gn\n) at (\x,\y) {};}
\begin{pgfonlayer}{bg}\foreach \a/\b in {1/2,1/4,1/6,2/3,2/4,2/5,3/5,4/5,5/6}{\draw[black!60,line width=.3pt] (gn\a)--(gn\b);}\end{pgfonlayer}
\foreach \yy in {317.6,327.6,337,353.2}{\foreach \k in {0,...,6}{\draw[dbb!80!black,line width=.35pt] ({3740.7+\k*7.81},\yy) rectangle ({3748.51+\k*7.81},{\yy+6.9});}}
\foreach \yy/\ttx in {321/$x_1$,331/$x_2$,340.5/$x_3$,356.6/$x_n$}{\Lab[font=\fontsize{3.5}{4}\selectfont]{3735}{\yy}{\ttx}}
\Lab{3768}{348.5}{..}
\Lab{3766.7}{365.9}{Graph Embedding}
\Pg{fi9}{3650.7}{255.3}{3715.2}{285.5}{Final\\Clustering}
\Bx{nu9}{3736.9}{259}{3800.3}{281.7}{Numerical\\Clustering}
\coordinate (em9) at (3769.4,314.6);\coordinate (ga9) at (3706.5,340);\coordinate (gb9) at (3726,340);\coordinate (dq9) at (3495.4,307.3);\coordinate (cq9) at (3577,249);
\draw[ga=3pt] (db9.south)--(dq9);
\draw[ga=3pt] (d9.east)--(tr9.west);
\draw[ga=3pt] (ga9)--(gb9);
\draw[ga=3pt] (em9)--(em9 |- nu9.south);
\draw[ga=3pt] (nu9.west)--(fi9.east);
\draw[ga=3pt] (fi9.west)-|(cq9);
\end{scope}
\Fcap{3624}{400}{Figure 9: G\sca{RAPH} C\sca{LUSTERING}}
\Blk{3445.3}{433.6}{251}{%
\I{Graph-based clustering represents data as a graph, where}
\J{nodes correspond to data points and weighted edges reflect the}
\J{similarity between them (\cc{Maier et al., 2008}). Figure \cc{9} shows}
\J{the workflow of graph-based clustering. Clusters are formed}
\J{as densely connected subgraphs, with sparse or minimal con-}
\J{nections to nodes outside the cluster. The goal of graph-based}
\J{clustering algorithms is to partition the graph by analyzing its}
\J{edge structure, typically maximizing the total weight or num-}
\J{ber of edges within clusters while minimizing inter-cluster con-}
\J{nections. This approach is particularly effective for identifying}
\N{non-convex clusters and handling complex data structures.}}
% Figure 10
\begin{scope}[every node/.append style={f65}]
\renewcommand\sltf{0.14}
\Lab[alias=ds10]{3620}{629}{Data Stream}
\coordinate (s10a) at (3489,634.4);\coordinate (s10b) at (3760,634.4);\draw[black,line width=.5pt,-{Stealth[length=3pt]}] (s10a)--(s10b);
\Lab{3521.7}{646}{Dataset Batch $D_1$}\Lab{3623}{646}{Dataset Batch $D_k$}\Lab{3724.4}{646}{Dataset Batch $D_N$}
\DB{dba}{3488}{656.3}{3555.3}{710}\DB{dbk}{3589.5}{656.3}{3656.7}{710}\DB{dbn}{3690.8}{656.3}{3758}{710}
\Lab{3572}{685}{..}\Lab{3673.5}{685}{..}
\foreach \a/\b in {3489/3554,3557/3622,3624.7/3688.7,3692/3757}{\draw[black!45,line width=.4pt,decorate,decoration={brace,amplitude=4pt,mirror}] (\a,716)--(\b,716);}
\foreach \x in {3518,3585.7,3653.4,3722.8}{\Lab{\x}{732}{Sliding Window}}
\foreach \x in {3507,3574.8,3642,3709}{\Lab{\x}{743.9}{Input}}
\Bx{c1}{3489}{760.7}{3552.6}{785.6}{Perform Initial\\Clustering}
\Bx{c2}{3558}{753.5}{3616.6}{796}{Cluster new\\dataset based\\on the last\\cluster model}
\Bx{c3}{3625.8}{753.5}{3683.8}{796}{Cluster new\\dataset based\\on the last\\cluster model}
\Bx{c4}{3693.5}{752}{3752}{794.5}{Cluster new\\dataset based\\on the last\\cluster model}
\Lab[f8,alias=st10]{3460}{775}{Start}\Lab[f8,alias=en10]{3782.4}{830.4}{End}
\Lab{3782.4}{842}{Clustering}\Lab{3782.4}{852.2}{Results}
\Dm{d1}{3553.7}{875.5}{25.5}{21}{Concept\\Drift?}
\Dm{d2}{3623}{875}{25.5}{21}{Concept\\Drift?}
\Dm{d3}{3690.8}{876}{25.5}{21}{Concept\\Drift?}
\Bx{r1}{3522.8}{904.6}{3584}{939.5}{Recluster last\\and current\\batches}
\Bx{r2}{3593.3}{904.6}{3653.4}{939.5}{Recluster last\\and current\\batches}
\Bx{r3}{3663.7}{904}{3723.3}{938.7}{Recluster last\\and current\\batches}
\draw[ga=3.6pt] (st10.east)--(c1.west);
\foreach \x/\st in {3522.2/c1,3590/c2,3656.7/c3,3724.4/c4}{\coordinate (tmp) at (\x,737);\draw[ga=3.6pt] (tmp)--(tmp |- \st.north);}
\foreach \cx/\y in {c1/3521,c2/3590,c3/3657.5,c4/3725}{\coordinate (tmp) at (\y,811);\draw[ga=3.6pt] (\cx.south)--(tmp);}
\foreach \pa/\pb in {d1/r1,d2/r2,d3/r3}{\draw[ga=3pt] (\pa.south)--(\pa.south |- \pb.north);}
\Pg{p1}{3486.5}{810.9}{3551.5}{847.2}{Initial Cluster\\Presentation\\and Model}
\Pg{p2}{3560.7}{810.9}{3619.3}{847.2}{New Cluster\\Presentation\\and Model}
\Pg{p3}{3628.5}{810.9}{3687}{847.2}{New Cluster\\Presentation\\and Model}
\Pg{p4}{3696.2}{810.9}{3753.7}{847.2}{Final Cluster\\Presentation\\and Model}
\draw[ga=3.6pt] (p4.east)--(en10.west);
\draw[ga=3.6pt] (p1.south)|-(d1.west);
\foreach \pa/\pb/\pc in {r1/p2/d1,r2/p3/d2,r3/p4/d3}{\draw[gl=3pt] (\pc.east)-|(\pb.south);\draw[ga=3.6pt] (\pa.east)-|(\pb.south);}
\foreach \pa/\pb in {p1/c2,p2/c3,p3/c4}{\coordinate (tmpa) at ([xshift=-.5pt]\pa.east);\coordinate (tmpb) at ([xshift=-13.5pt]\pb.south);\draw[ga=3.6pt] (tmpa)-|(tmpb);}
\foreach \pa/\pb in {p2/d1,p3/d2,p4/d3}{\draw[ga=3.6pt] ([yshift=2pt]\pa.west)-|(\pb.north);}
\foreach \x in {3607.3,3677.3}{\coordinate (tmpa) at (\x,848);\coordinate (tmpb) at (\x,863);\draw[ga=3.6pt] (tmpa)--(tmpb);}
\foreach \x/\y in {3558.6/806,3626/806,3693.5/805}{\Lab{\x}{\y}{For reference}}
\foreach \x/\y in {3580/868.7,3649/868.7,3718/869}{\Lab[f5]{\x}{\y}{No}}
\foreach \x in {3566.7,3635.5,3703}{\Lab[f5]{\x}{899}{Yes}}
\foreach \x in {3587.8,3656,3727}{\Lab[f5]{\x}{893}{Update}}
\end{scope}
\Fcap{3624}{965.9}{Figure 10: D\sca{ATA} S\sca{TREAM} C\sca{LUSTERING}}
\Blk{3445.3}{999.2}{251}{%
\I{Data stream clustering dynamically groups similar data points}
\J{in real-time as they flow continuously into a system \cc{Silva et al.}}
\J{(\cc{2013}). Designed to handle high-velocity, large-volume, and}
\J{unbounded data streams, it incrementally updates clusters to en-}
\J{sure efficient and adaptive processing. The general framework}
\J{of data stream clustering, illustrated in Figure \cc{10}, comprises}}
\Blk{3828.5}{130}{251}{%
\J{several key steps. It begins with clustering the initial batch of}
\J{data to establish a baseline configuration. A sliding window}
\J{model is then employed to focus on the most recent data, en-}
\J{suring that older, less relevant points are discarded. Clusters}
\J{are represented through statistical summaries, such as centers}
\J{or spreads, which are continuously updated to reflect new data.}
\J{As new points arrive, they are incrementally assigned to exist-}
\J{ing clusters or used to form new ones, depending on their sim-}
\J{ilarity. The framework also incorporates mechanisms to detect}
\J{and respond to concept drift, adjusting the clustering model to}
\J{accommodate shifts in the data distribution. Periodic mainte-}
\J{nance is performed to refine clusters, which may involve merg-}
\J{ing, splitting, or repositioning them as needed. This iterative}
\J{process ensures that the clustering remains adaptive, provid-}
\J{ing an up-to-date representation of the evolving data stream for}
\N{downstream analysis.}}
% Figure 11
\begin{scope}[every node/.append style={f9}]
\Lab{3911}{415.6}{Dataset}\Lab[alias=cr11]{4082}{437.8}{Clustering Results}
\DB{db11}{3873.5}{426}{3949.4}{486.8}
\Bx{g11}{3853.4}{505.5}{3966.7}{525.5}{Generate Clusters}
\Bx{a11}{3853.4}{542.3}{3966.7}{563}{Assess Clusters}
\Bx{s11}{3852.5}{584.8}{3966.2}{604.6}{Select Clusters}
\Bx{c11}{3853.4}{626}{3966.2}{646}{Combine Clusters}
\Bx{u11}{4029}{592}{4142.3}{612.2}{Update Clusters}
\Bx{l11}{4029}{626}{4142.3}{646}{Alter Clusters}
\Dm{d11}{4085.4}{551.9}{78.6}{34}{Check\\Convergence}
\draw[ga=3.5pt] (db11.south)--(db11.south |- g11.north);
\draw[ga=3.5pt] (g11.south)--(a11.north);\draw[ga=3.5pt] (a11.south)--(s11.north);\draw[ga=3.5pt] (s11.south)--(c11.north);
\draw[ga=3.5pt] (d11.west)--(a11.east |- d11.west);
\draw[ga=3.5pt] (d11.north)--([yshift=-4pt]cr11.south -| d11.north);
\draw[ga=3.5pt] (u11.north)--(d11.south);
\draw[ga=3.5pt] (l11.north)--(u11.south);
\draw[ga=3.5pt] (c11.south)--(3909.8,660.5)-|(l11.south);
\Lab{4100}{496}{Yes}\Lab{3994.4}{541.5}{No}
\end{scope}
\Fcap{4006.8}{694}{Figure 11: G\sca{ENETIC} A\sca{LGORITHM-BASED} C\sca{LUSTERING}}
% Figure 12
\begin{scope}[every node/.append style={f10}]
\Lab{3887}{741.6}{Dataset}\Lab[alias=cr12]{4093.5}{785.2}{Clustering Results}
\coordinate (bmq) at (3886.5,975.8);\coordinate (bmp) at (3886.5,815);\draw[draw=gr,line width=5pt] (bmp)--(bmq);
\DB{db12}{3845.3}{753}{3929.3}{820.8}
\Bx{b121}{3833.4}{835}{3951}{857.2}{Base Clustering 1}
\Bx{b122}{3833.4}{871.7}{3951}{893.9}{Base Clustering 2}
\Bx{b123}{3833.4}{923.8}{3951}{946}{Base Clustering g}
\Bx{b124}{3831.8}{975.8}{3957.5}{998.4}{Base Clustering M}
\foreach \yy in {902.3,908,913.8,955.9,961.6,967.4}{\fill[black] (3886.5,\yy) circle (1.6pt);}
\Dm{d12}{4098.4}{908.8}{82.7}{38.3}{Consensus\\Function}
\coordinate (hub) at (3999.8,908.8);
\draw[gl=5pt,rounded corners=14pt] (b121.east)-|(hub);
\draw[gl=5pt,rounded corners=14pt] (b122.east)-|(hub);
\draw[gl=5pt,rounded corners=14pt] (b123.east)-|(hub);
\draw[gl=5pt,rounded corners=14pt] (b124.east)-|(hub);
\draw[ga=5pt] (hub)--(d12.west);
\draw[ga=5pt] (d12.north)--([yshift=-5pt]cr12.south -| d12.north);
\end{scope}
\Fcap{4007.4}{1024.8}{Figure 12: E\sca{NSEMBLE} C\sca{LUSTERING}}
\Blk{3828.5}{1059.4}{251}{%
\I{Genetic algorithm (GA)-based clustering (\cc{Maulik \& Bandy-}}
\J{\cc{opadhyay, 2000}) utilizes genetic algorithms (GAs) to improve}}
\Tx{3815.5}{1109.8}{5}
\end{tikzpicture}
\end{document}
